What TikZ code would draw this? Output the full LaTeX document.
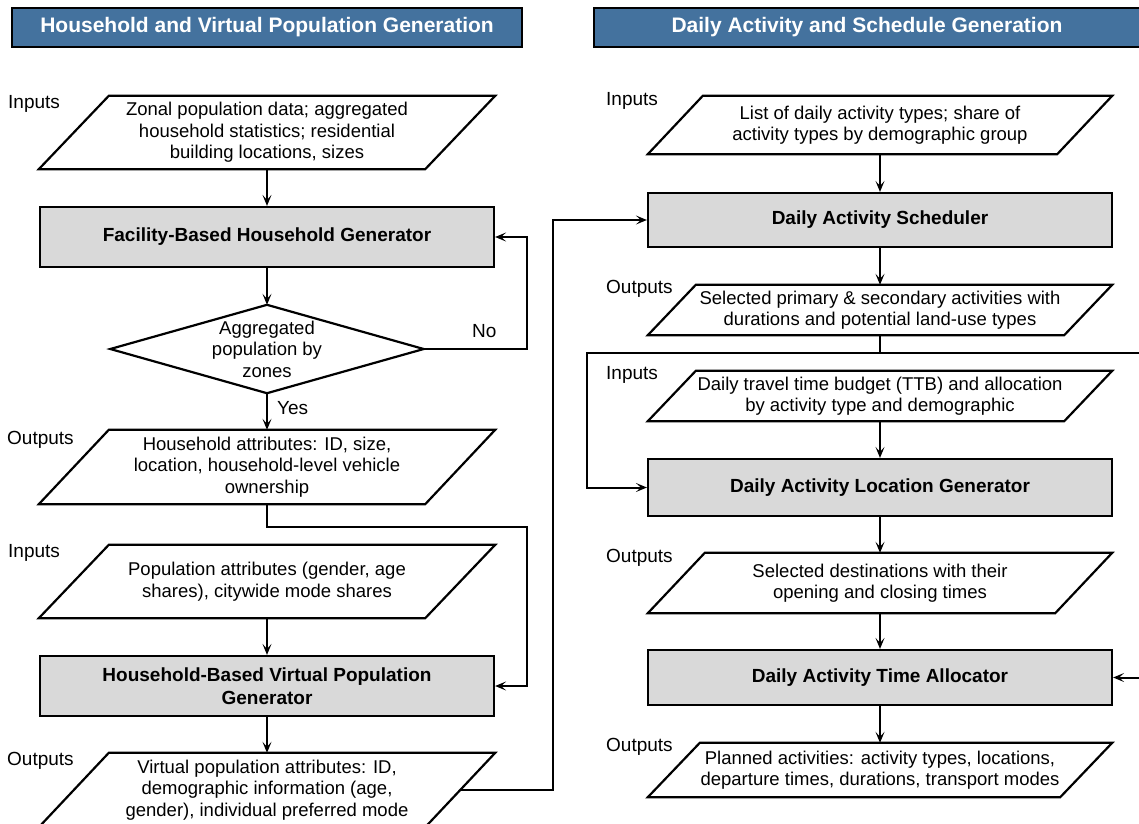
\documentclass[tikz,border=0pt]{standalone}
\usepackage{fontspec}
\setmainfont{Liberation Sans}
\usetikzlibrary{arrows.meta}
\definecolor{hdrblue}{RGB}{68,114,158}
\definecolor{boxgray}{RGB}{217,217,217}

\begin{document}
\begin{tikzpicture}[x=1pt,y=-1pt,
  hdr/.style={draw=black,line width=1.2pt,fill=hdrblue,text=white,font=\fontsize{21}{25}\selectfont\bfseries,minimum height=39pt,inner sep=0pt},
  proc/.style={draw=black,line width=2.2pt,fill=boxgray,align=center,inner sep=0pt,font=\fontsize{19}{23}\selectfont\bfseries},
  io/.style={inner sep=0pt,align=center,font=\fontsize{18.5}{21.5}\selectfont},
  shp/.style={draw=black,line width=2.2pt},
  tag/.style={anchor=west,inner sep=0pt,font=\fontsize{19}{22}\selectfont},
  wire/.style={line width=2pt},
  flow/.style={line width=2pt,-{Stealth[length=11pt,width=9pt,inset=5pt]}}]
\useasboundingbox (0,0) rectangle (1139,823);
\clip (0,0) rectangle (1139,823);
\fill[white] (0,0) rectangle (1139,823);
% Headers
\node[hdr,minimum width=510pt] (hdrL) at (267,27.5) {Household and Virtual Population Generation};
\node[hdr,minimum width=546pt] (hdrR) at (867,27.5) {Daily Activity and Schedule Generation};
% Left column: household and population
\node[io,minimum width=386pt,minimum height=73pt] (in1L) at (267,132.5) {Zonal population data; aggregated\\household statistics; residential\\building locations, sizes};
\draw[shp] ([xshift=-35pt]in1L.south west) -- ([xshift=-35pt]in1L.south east) -- ([xshift=35pt]in1L.north east) -- ([xshift=35pt]in1L.north west) -- cycle;
\node[tag] (in1Ltag) at (8,104) {Inputs};
\node[proc,minimum width=454pt,minimum height=60pt] (facL) at (267,237) {Facility-Based Household Generator};
\node[io,minimum width=313pt,minimum height=88pt] (decL) at (267,349) {Aggregated\\population by\\zones};
\draw[shp] (decL.west) -- (decL.north) -- (decL.east) -- (decL.south) -- cycle;
\node[tag] (noL) at (472,331) {No};
\node[tag] (yesL) at (277,408) {Yes};
\node[io,minimum width=386pt,minimum height=74pt] (out1L) at (267,467) {Household attributes: ID, size,\\location, household-level vehicle\\ownership};
\draw[shp] ([xshift=-35pt]out1L.south west) -- ([xshift=-35pt]out1L.south east) -- ([xshift=35pt]out1L.north east) -- ([xshift=35pt]out1L.north west) -- cycle;
\node[tag] (out1Ltag) at (7,440) {Outputs};
\node[io,minimum width=386pt,minimum height=73pt] (in2L) at (267,581.5) {Population attributes (gender, age\\shares), citywide mode shares};
\draw[shp] ([xshift=-35pt]in2L.south west) -- ([xshift=-35pt]in2L.south east) -- ([xshift=35pt]in2L.north east) -- ([xshift=35pt]in2L.north west) -- cycle;
\node[tag] (in2Ltag) at (8,553) {Inputs};
\node[proc,minimum width=454pt,minimum height=60pt] (hbvL) at (267,686) {Household-Based Virtual Population\\Generator};
\node[io,minimum width=386pt,minimum height=74pt] (out2L) at (267,790) {Virtual population attributes: ID,\\demographic information (age,\\gender), individual preferred mode};
\draw[shp] ([xshift=-35pt]out2L.south west) -- ([xshift=-35pt]out2L.south east) -- ([xshift=35pt]out2L.north east) -- ([xshift=35pt]out2L.north west) -- cycle;
\node[tag] (out2Ltag) at (7,761) {Outputs};
% Right column: activities and schedule
\node[io,minimum width=409pt,minimum height=58pt] (in1R) at (880,125) {List of daily activity types; share of\\activity types by demographic group};
\draw[shp] ([xshift=-27.5pt]in1R.south west) -- ([xshift=-27.5pt]in1R.south east) -- ([xshift=27.5pt]in1R.north east) -- ([xshift=27.5pt]in1R.north west) -- cycle;
\node[tag] (in1Rtag) at (606,101) {Inputs};
\node[proc,minimum width=464pt,minimum height=54pt] (schR) at (880,220) {Daily Activity Scheduler};
\node[io,minimum width=416pt,minimum height=50pt] (out1R) at (880,310) {Selected primary \& secondary activities with\\durations and potential land-use types};
\draw[shp] ([xshift=-24pt]out1R.south west) -- ([xshift=-24pt]out1R.south east) -- ([xshift=24pt]out1R.north east) -- ([xshift=24pt]out1R.north west) -- cycle;
\node[tag] (out1Rtag) at (606,289) {Outputs};
\coordinate (splitR) at (880,353);
\node[io,minimum width=416pt,minimum height=50pt] (in2R) at (880,396) {Daily travel time budget (TTB) and allocation\\by activity type and demographic};
\draw[shp] ([xshift=-24pt]in2R.south west) -- ([xshift=-24pt]in2R.south east) -- ([xshift=24pt]in2R.north east) -- ([xshift=24pt]in2R.north west) -- cycle;
\node[tag] (in2Rtag) at (606,375) {Inputs};
\node[proc,minimum width=464pt,minimum height=57pt] (locR) at (880,487.5) {Daily Activity Location Generator};
\node[io,minimum width=407pt,minimum height=60pt] (out2R) at (880,583) {Selected destinations with their\\opening and closing times};
\draw[shp] ([xshift=-28.5pt]out2R.south west) -- ([xshift=-28.5pt]out2R.south east) -- ([xshift=28.5pt]out2R.north east) -- ([xshift=28.5pt]out2R.north west) -- cycle;
\node[tag] (out2Rtag) at (606,558) {Outputs};
\node[proc,minimum width=464pt,minimum height=55pt] (tmR) at (880,677.5) {Daily Activity Time Allocator};
\node[io,minimum width=412pt,minimum height=54pt] (out3R) at (880,770) {Planned activities: activity types, locations,\\departure times, durations, transport modes};
\draw[shp] ([xshift=-26pt]out3R.south west) -- ([xshift=-26pt]out3R.south east) -- ([xshift=26pt]out3R.north east) -- ([xshift=26pt]out3R.north west) -- cycle;
\node[tag] (out3Rtag) at (606,747) {Outputs};
% Connectors, left column
\draw[flow] (in1L.south) -- (facL.north);
\draw[flow] (facL.south) -- (decL.north);
\draw[flow] (decL.east) -- ++(103,0) |- (facL.east);
\draw[flow] (decL.south) -- (out1L.north);
\draw[flow] (out1L.south) -- ++(0,23) -- ++(260,0) |- (hbvL.east);
\draw[flow] (in2L.south) -- (hbvL.north);
\draw[flow] (hbvL.south) -- (out2L.north);
% Connector across to the right column
\draw[flow] (out2L.east) -- ++(93,0) |- (schR.west);
% Connectors, right column
\draw[flow] (in1R.south) -- (schR.north);
\draw[flow] (schR.south) -- (out1R.north);
\draw[wire] (out1R.south) -- (splitR);
\draw[flow] (splitR) -- ++(-293,0) |- (locR.west);
\draw[flow] (splitR) -- ++(270,0) |- (tmR.east);
\draw[flow] (in2R.south) -- (locR.north);
\draw[flow] (locR.south) -- (out2R.north);
\draw[flow] (out2R.south) -- (tmR.north);
\draw[flow] (tmR.south) -- (out3R.north);
\end{tikzpicture}
\end{document}
